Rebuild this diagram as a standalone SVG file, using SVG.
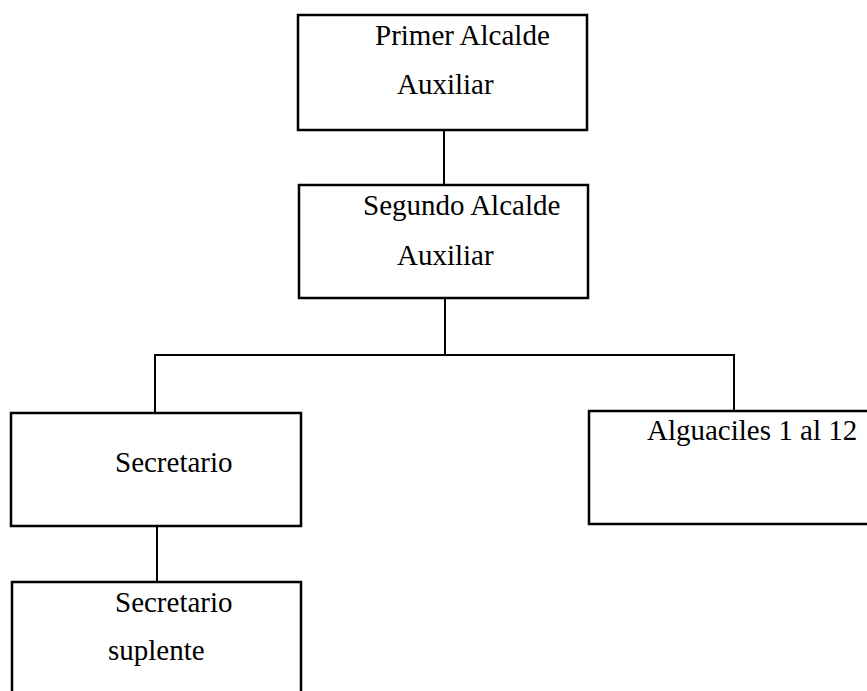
<svg xmlns="http://www.w3.org/2000/svg" width="867" height="691" viewBox="0 0 867 691">
<style>
.box{fill:#fff;stroke:#000;stroke-width:2.5}
.ln{fill:none;stroke:#000;stroke-width:2}
text{font-family:"Liberation Serif","Times New Roman",serif;font-size:29px;fill:#000}
</style>
<rect width="867" height="691" fill="#fff"/>
<g id="connectors">
<line class="ln" x1="444" y1="130" x2="444" y2="185"/>
<line class="ln" x1="445" y1="298" x2="445" y2="355"/>
<polyline class="ln" points="155,413 155,355 734,355 734,411"/>
<line class="ln" x1="157" y1="526" x2="157" y2="582"/>
</g>
<g id="primer">
<rect class="box" x="298" y="15" width="289" height="115"/>
<text x="375" y="45">Primer Alcalde</text>
<text x="397" y="94">Auxiliar</text>
</g>
<g id="segundo">
<rect class="box" x="299" y="185" width="289" height="113"/>
<text x="363" y="215">Segundo Alcalde</text>
<text x="397" y="265">Auxiliar</text>
</g>
<g id="secretario">
<rect class="box" x="11" y="413" width="290" height="113"/>
<text x="115" y="472">Secretario</text>
</g>
<g id="alguaciles">
<rect class="box" x="589" y="411" width="290" height="113"/>
<text x="647" y="440">Alguaciles 1 al 12</text>
</g>
<g id="suplente">
<rect class="box" x="12" y="582" width="289" height="120"/>
<text x="115" y="612">Secretario</text>
<text x="108" y="660">suplente</text>
</g>
</svg>
